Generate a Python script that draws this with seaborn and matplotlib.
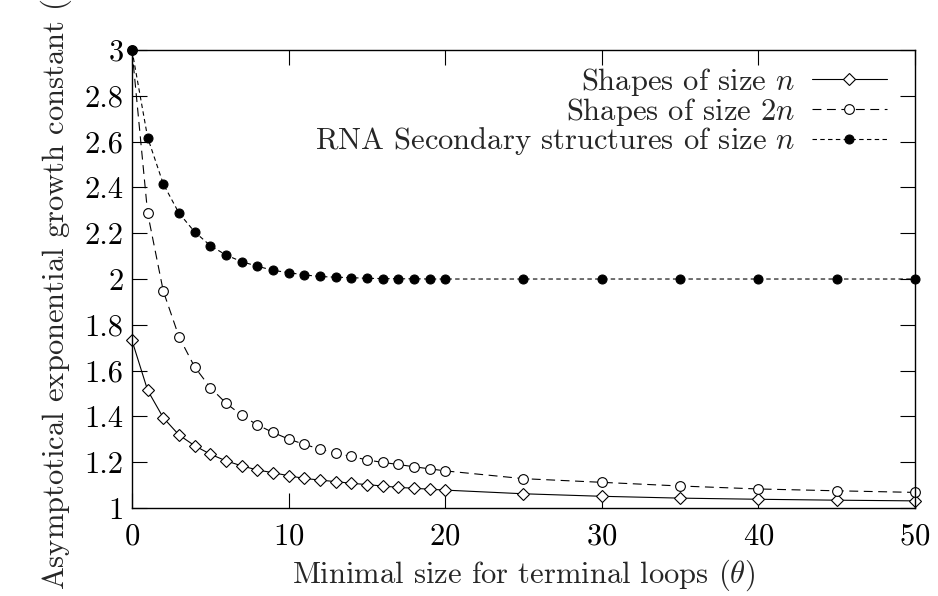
import matplotlib
matplotlib.use("Agg")
import matplotlib.pyplot as plt
import seaborn as sns

theta = [0, 1, 2, 3, 4, 5, 6, 7, 8, 9, 10, 11, 12, 13, 14, 15, 16, 17, 18, 19, 20,
         25, 30, 35, 40, 45, 50]

shapes_n = [1.732, 1.514, 1.394, 1.319, 1.272, 1.235, 1.206, 1.184, 1.166, 1.154, 1.141,
            1.129, 1.122, 1.115, 1.108, 1.102, 1.096, 1.090, 1.086, 1.082, 1.078,
            1.062, 1.051, 1.043, 1.038, 1.034, 1.031]

shapes_2n = [3.0, 2.288, 1.947, 1.748, 1.616, 1.526, 1.458, 1.405, 1.363, 1.330, 1.301,
             1.278, 1.257, 1.240, 1.225, 1.210, 1.199, 1.190, 1.180, 1.171, 1.162,
             1.128, 1.112, 1.096, 1.083, 1.075, 1.068]

rna_n = [3.0, 2.618, 2.415, 2.288, 2.206, 2.146, 2.105, 2.076, 2.056, 2.038, 2.028,
         2.018, 2.011, 2.008, 2.006, 2.003, 2.002, 2.001, 2.001, 2.0, 2.0,
         2.0, 2.0, 2.0, 2.0, 2.0, 2.0]

labels = ["Shapes of size $n$", "Shapes of size $2n$", "RNA Secondary structures of size $n$"]

sns.set_style("ticks")
plt.rcParams["font.family"] = ["cmr10", "DejaVu Serif"]
plt.rcParams["mathtext.fontset"] = "cm"
plt.rcParams["axes.formatter.use_mathtext"] = True
plt.rcParams["axes.unicode_minus"] = False

fs = 22

fig = plt.figure(figsize=(9.38, 5.96), dpi=100)
ax = fig.add_axes([0.1407, 0.1477, 0.8348, 0.7683])

lw = 0.8
sns.lineplot(x=theta, y=shapes_n, ax=ax, color="black", linewidth=lw, linestyle="-",
             marker="D", markersize=6, markerfacecolor="white", markeredgecolor="black",
             markeredgewidth=0.8, label=labels[0], clip_on=False)
sns.lineplot(x=theta, y=shapes_2n, ax=ax, color="black", linewidth=lw, linestyle=(0, (8, 5)),
             marker="o", markersize=7, markerfacecolor="white", markeredgecolor="black",
             markeredgewidth=0.8, label=labels[1], clip_on=False)
sns.lineplot(x=theta, y=rna_n, ax=ax, color="black", linewidth=lw, linestyle=(0, (4, 3)),
             marker="o", markersize=6.5, markerfacecolor="black", markeredgecolor="black",
             label=labels[2], clip_on=False)

ax.set_xlim(0, 50)
ax.set_ylim(1, 3)
ax.set_xticks([0, 10, 20, 30, 40, 50])
ax.set_yticks([1, 1.2, 1.4, 1.6, 1.8, 2, 2.2, 2.4, 2.6, 2.8, 3])
ax.set_yticklabels(["1", "1.2", "1.4", "1.6", "1.8", "2", "2.2", "2.4", "2.6", "2.8", "3"])
ax.tick_params(direction="in", length=11, width=0.8, top=True, right=True,
               labelsize=fs, colors="black")
ax.tick_params(axis="x", pad=11)
ax.tick_params(axis="y", pad=6)
for spine in ax.spines.values():
    spine.set_linewidth(1.0)
    spine.set_color("black")
    spine.set_visible(True)

ax.set_xlabel(r"Minimal size for terminal loops ($\theta$)", fontsize=fs, labelpad=5)
ax.set_ylabel(r"Asymptotical exponential growth constant ($\alpha$)", fontsize=fs, labelpad=8)

leg = ax.legend(loc="upper right", bbox_to_anchor=(0.964, 0.965), frameon=False,
                markerfirst=False, fontsize=fs, handlelength=2.45, labelspacing=-0.08,
                handletextpad=0.55, borderaxespad=0, borderpad=0)

fig.savefig("out.png", dpi=100)
